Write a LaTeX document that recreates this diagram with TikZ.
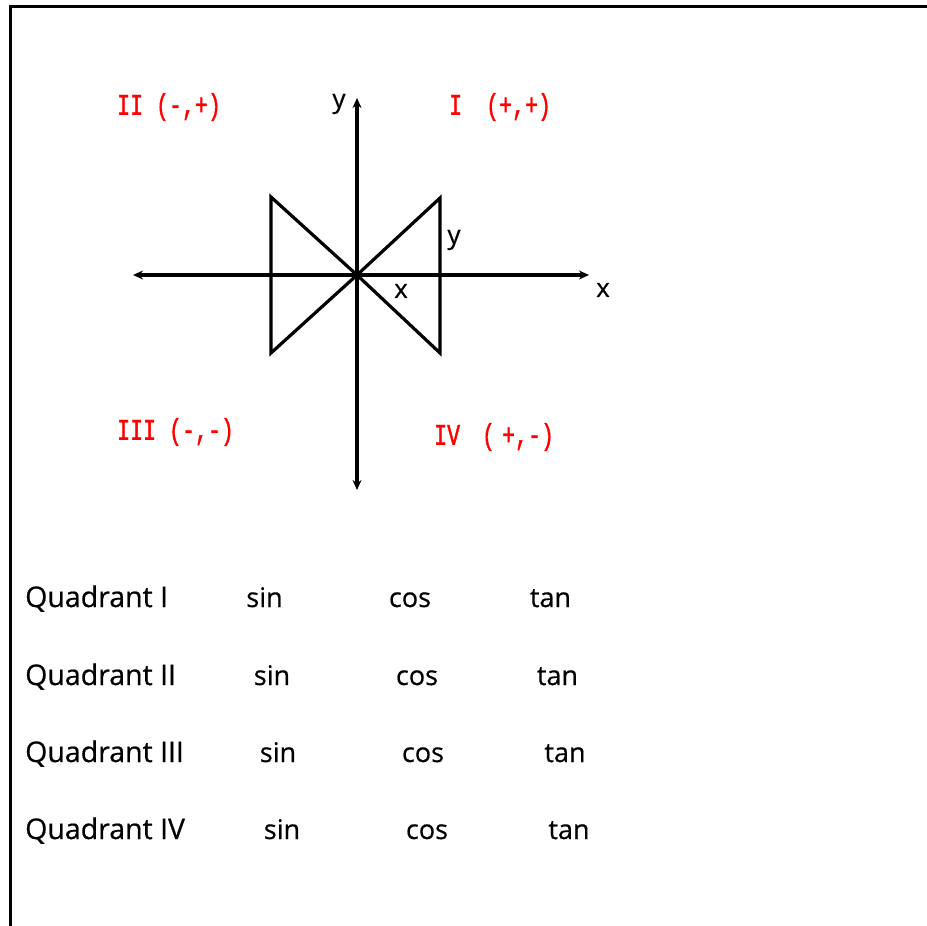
\documentclass[tikz,border=0pt]{standalone}
\usepackage{fontspec}
\setmainfont[FakeBold=0.5]{Open Sans}
\newfontfamily\redfont[FakeStretch=0.72,FakeBold=1.2]{Liberation Mono}
\usetikzlibrary{arrows.meta}
\begin{document}
\begin{tikzpicture}[x=1pt,y=-1pt,
  frame/.style={line width=2.6pt},
  axis/.style={line width=3.2pt,{Stealth[length=10pt,width=9pt]}-{Stealth[length=10pt,width=9pt]}},
  tri/.style={line width=3.2pt,line join=miter},
  lbl/.style={inner sep=0pt,font=\fontsize{26}{30}\selectfont},
  quad/.style={inner sep=0pt,text=red,font=\redfont\fontsize{30}{34}\selectfont},
  row/.style={inner sep=0pt,anchor=base west,font=\fontsize{28.5}{32}\selectfont},
  fn/.style={inner sep=0pt,anchor=base,font=\fontsize{27}{32}\selectfont}]
\useasboundingbox (0,0) rectangle (927,926);
% frame
\coordinate (fTR) at (927,6.5);
\coordinate (fTL) at (10.5,6.5);
\coordinate (fBL) at (10.5,926);
\draw[frame] (fTR) -- (fTL) -- (fBL);
% axes
\coordinate (O) at (357,275);
\coordinate (xl) at (133,275);
\coordinate (xr) at (589,275);
\coordinate (yt) at (357,98);
\coordinate (yb) at (357,490);
\draw[axis] (xl) -- (xr);
\draw[axis] (yb) -- (yt);
% triangles
\coordinate (A) at (440,198);
\coordinate (B) at (440,353);
\coordinate (C) at (271,197);
\coordinate (D) at (271,353);
\draw[tri] (O) -- (A) -- (B) -- cycle;
\draw[tri] (O) -- (C) -- (D) -- cycle;
% axis labels
\node[lbl] (ly) at (339,104) {y};
\node[lbl] (lx) at (603,290) {x};
\node[lbl] (ty) at (454,240) {y};
\node[lbl] (tx) at (401,291) {x};
% quadrant labels
\node[quad,anchor=west] (q2) at (117,107) {II (-,+)};
\node[quad,anchor=west] (q1) at (449,107) {I\hspace{24pt}(+,+)};
\node[quad,anchor=west] (q3) at (117,432) {III (-,-)};
\node[quad,anchor=west] (q4) at (434,437) {IV\hspace{22pt}(\hspace{7pt}+,-)};
% rows
\node[row] (r1) at (25,607) {Quadrant I};
\node[fn] (s1) at (264.5,607) {sin};
\node[fn] (c1) at (410,607) {cos};
\node[fn] (t1) at (550.5,607) {tan};
\node[row] (r2) at (25,685) {Quadrant II};
\node[fn] (s2) at (272,685) {sin};
\node[fn] (c2) at (417,685) {cos};
\node[fn] (t2) at (557.5,685) {tan};
\node[row] (r3) at (25,762) {Quadrant III};
\node[fn] (s3) at (278,762) {sin};
\node[fn] (c3) at (423,762) {cos};
\node[fn] (t3) at (565,762) {tan};
\node[row] (r4) at (25,839) {Quadrant IV};
\node[fn] (s4) at (282,839) {sin};
\node[fn] (c4) at (427,839) {cos};
\node[fn] (t4) at (569,839) {tan};
\end{tikzpicture}
\end{document}
